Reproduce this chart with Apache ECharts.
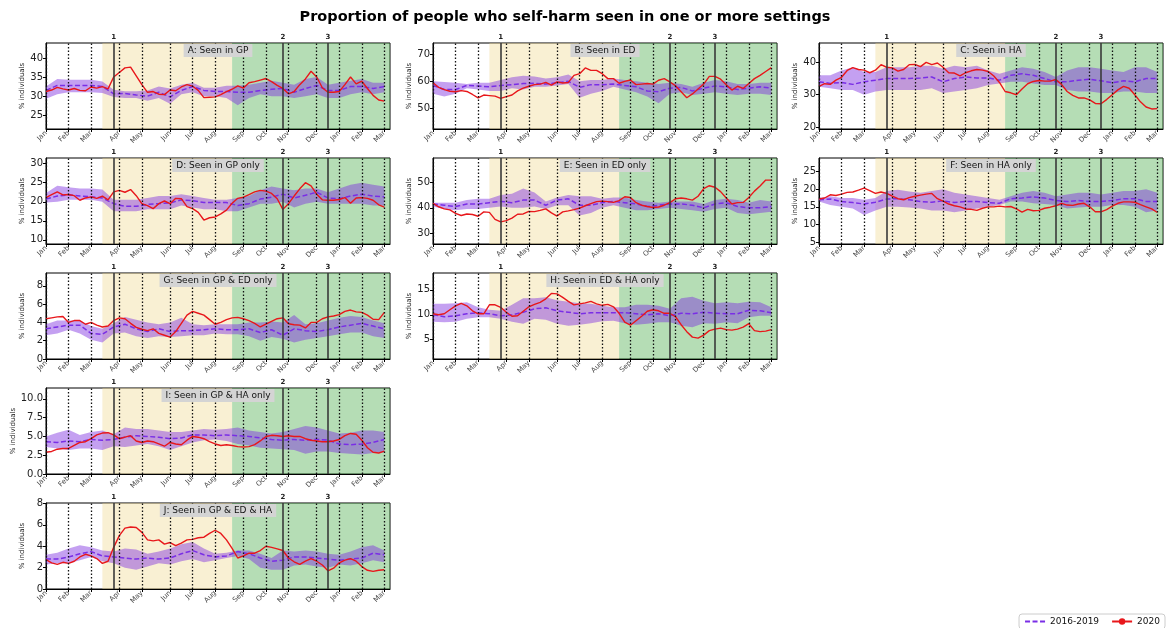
<!DOCTYPE html>
<html>
<head>
<meta charset="utf-8">
<title>Self-harm settings</title>
<script src="https://cdn.jsdelivr.net/npm/echarts@6/dist/echarts.min.js"></script>
<style>
    html, body { margin: 0; padding: 0; background: #fff; }
    #main { width: 1173px; height: 628px; }
</style>
</head>
<body>
<div id="main"></div>
<script>
// week index since first week of January 2020
var weeks = [0,1,2,3,4,5,6,7,8,9,10,11,12,13,14,15,16,17,18,19,20,21,22,23,24,25,26,27,28,29,30,
    31,32,33,34,35,36,37,38,39,40,41,42,43,44,45,46,47,48,49,50,51,52,53,54,55,56,57,58,59,60];
var weeks2 = [0,2,4,6,8,10,12,14,16,18,20,22,24,26,28,30,32,34,36,38,40,42,44,46,48,50,52,54,56,58,60];
var monthTicks = [0,4,8,13,17,22,26,30,35,39,43,48,52,56,60];
var monthLabels = ['Jan','Feb','Mar','Apr','May','Jun','Jul','Aug','Sep','Oct','Nov','Dec','Jan','Feb','Mar'];
var lockdownWeeks = [12,42,50];
var lockdownLabels = ['1','2','3'];
var summerSpan = [10,33];
var winterSpan = [33,61];

// A: Seen in GP
var aRed = [31.2,31.6,32.3,31.9,31.6,32.0,31.5,31.4,32.4,32.1,32.5,31.9,35.0,36.2,37.4,37.6,35.3,33.0,31.0,31.2,30.5,30.4,31.6,31.4,32.4,33.0,32.6,31.5,29.6,29.7,29.8,30.4,31.2,31.8,32.7,32.1,33.5,33.8,34.2,34.6,33.8,32.8,32.0,30.6,31.2,33.0,34.5,36.5,35.0,32.2,31.0,31.0,31.2,33.0,35.0,33.2,33.9,32.0,30.2,29.0,28.7];
var aMean = [31.5,32.8,32.8,32.8,32.8,32.5,30.6,30.7,30.3,30.0,31.0,29.8,31.5,32.5,31.5,31.2,31.2,31.0,31.0,31.5,31.8,32.0,31.0,32.0,32.8,31.5,31.5,32.5,32.5,32.0,32.5];
var aHi = [32.5,34.5,34.3,34.3,34.3,33.8,31.7,31.3,31.3,31.5,32.5,32.0,33.0,33.5,32.2,32.2,32.7,32.7,33.0,33.5,34.0,33.5,33.0,34.5,35.0,33.0,33.5,34.0,34.5,33.5,33.5];
var aLo = [29.3,30.5,31.0,31.0,31.0,30.8,29.8,29.5,29.5,28.8,29.5,28.0,30.5,31.0,30.0,30.0,29.5,27.6,29.5,30.5,30.0,30.0,29.5,30.0,30.5,29.5,29.5,30.5,31.0,30.5,31.0];
var aTicks = [25,30,35,40];

// B: Seen in ED
var bRed = [59.5,57.8,57.0,56.4,56.2,56.6,56.3,55.2,54.0,55.0,54.8,54.6,53.8,54.4,55.0,56.5,57.5,58.2,58.8,59.0,59.6,58.6,59.8,59.4,59.6,62.2,62.8,64.9,64.0,64.0,62.8,61.0,61.0,59.3,60.0,60.5,58.8,59.0,59.2,59.0,60.4,61.0,59.8,58.4,56.2,54.0,55.4,57.2,59.0,61.8,61.8,60.8,58.8,56.8,58.2,57.4,59.2,61.0,62.2,63.6,65.0];
var bMean = [58.5,57.0,57.0,58.5,58.3,58.0,58.5,58.8,59.2,59.3,59.0,59.5,60.0,57.8,58.8,58.8,59.0,58.5,58.0,56.5,56.2,57.5,57.8,56.5,57.5,58.3,58.0,57.0,57.5,58.0,57.5];
var bHi = [60.0,59.8,59.5,59.0,59.5,59.5,60.5,61.5,62.0,61.8,61.0,61.5,62.5,60.0,60.5,60.5,61.0,60.5,60.0,59.5,59.0,59.5,59.0,58.0,59.5,60.5,60.0,59.0,59.0,59.5,59.5];
var bLo = [55.5,54.5,55.5,57.5,57.0,56.5,56.5,57.5,57.0,58.0,58.0,58.5,59.0,54.0,55.5,56.5,58.0,57.0,56.0,54.5,52.0,55.5,56.0,55.0,55.5,56.0,55.5,55.0,55.5,55.5,55.0];
var bTicks = [50,60,70];

// C: Seen in HA
var cRed = [32.6,33.4,33.2,34.5,35.4,37.5,38.4,37.8,37.6,36.8,37.6,39.3,38.5,38.3,37.3,37.8,39.3,39.4,38.7,40.0,39.3,39.8,38.5,36.8,36.7,35.8,36.8,37.4,37.8,37.6,37.2,35.8,33.8,31.0,30.6,30.0,31.8,33.4,34.1,34.4,34.2,34.2,34.7,33.2,31.0,29.8,29.0,29.0,28.4,27.3,27.2,28.5,30.0,31.5,32.6,32.0,30.0,27.8,26.2,25.6,25.7];
var cMean = [34.0,33.5,33.8,33.2,34.0,34.5,35.0,35.0,35.0,35.2,35.5,34.0,35.0,35.5,35.2,35.2,34.5,36.0,36.5,36.0,35.0,34.0,34.0,34.5,34.8,34.3,33.7,34.3,34.0,35.0,35.0];
var cHi = [36.0,36.0,37.5,38.5,37.0,37.0,38.5,38.5,38.5,39.0,39.0,38.0,39.0,38.5,39.0,37.5,36.5,37.5,38.5,38.0,37.0,35.5,37.5,38.5,38.5,38.0,37.5,37.0,38.5,38.5,37.0];
var cLo = [32.5,32.0,31.5,31.5,30.0,31.0,31.5,31.5,31.5,31.5,32.0,30.5,31.0,31.5,32.0,33.0,33.5,34.0,34.0,33.5,33.0,33.0,31.5,31.0,31.0,30.5,30.5,31.0,31.0,30.5,30.5];
var cTicks = [20,30,40];

// D: Seen in GP only
var dRed = [21.1,21.9,22.6,21.8,21.9,21.6,20.4,21.0,21.3,20.9,21.5,20.5,22.6,23.0,22.5,23.2,21.6,19.5,19.0,18.2,19.5,20.2,19.5,20.9,20.8,18.7,18.2,17.2,15.2,15.8,16.0,16.8,17.8,19.6,20.9,21.2,21.9,22.6,23.0,22.8,22.2,20.8,18.0,19.5,21.5,23.4,25.0,24.2,22.0,20.5,20.4,20.4,20.6,21.1,19.6,21.0,21.1,20.9,20.4,19.2,18.6];
var dMean = [20.7,21.5,21.8,21.5,21.3,21.0,19.5,18.8,18.8,19.3,19.5,19.7,20.5,20.3,19.8,19.8,19.8,19.0,19.5,20.7,21.2,22.0,21.0,21.7,22.5,21.0,20.8,21.5,22.0,21.5,21.3];
var dHi = [22.3,24.2,23.8,23.5,23.5,23.2,20.5,20.5,20.5,21.0,21.5,21.5,22.0,21.5,21.0,20.5,20.5,21.0,21.5,23.0,24.0,23.5,23.0,23.5,23.5,22.5,23.5,24.5,25.0,24.5,24.0];
var dLo = [19.8,20.0,20.5,20.5,20.5,20.0,17.5,17.5,17.5,18.0,18.0,18.0,19.0,18.5,18.0,18.0,17.5,17.5,18.5,19.5,19.5,20.0,18.5,19.5,20.0,19.5,19.5,19.5,19.5,19.0,19.0];
var dTicks = [10,15,20,25,30];

// E: Seen in ED only
var eRed = [41.7,40.4,39.6,39.2,37.8,37.0,37.6,37.4,36.7,38.4,38.2,35.5,34.5,35.0,36.0,37.5,37.6,38.6,38.5,39.0,39.6,38.0,36.8,38.4,38.8,39.3,39.9,40.8,41.6,42.4,42.6,42.4,42.1,42.8,44.3,44.0,42.0,41.0,40.5,40.1,40.3,41.0,42.0,43.5,43.8,43.5,43.0,44.5,47.5,48.6,48.0,46.3,43.8,41.5,42.0,42.1,44.0,46.5,48.5,50.8,50.8];
var eMean = [41.5,41.0,40.5,41.5,41.5,42.0,42.5,42.0,43.0,43.0,41.0,43.0,43.5,41.0,41.0,42.0,42.5,42.0,41.5,40.5,41.0,41.5,41.5,41.0,40.0,41.5,42.0,40.5,40.0,40.0,40.5];
var eHi = [42.0,42.0,42.0,43.0,43.5,43.5,45.0,45.5,47.5,46.0,42.5,44.0,45.0,44.5,44.5,43.5,44.0,44.0,43.0,42.5,42.0,42.5,42.5,42.5,41.5,43.0,43.5,43.0,42.0,43.0,42.5];
var eLo = [40.5,39.5,39.0,39.5,39.5,40.0,40.5,40.0,40.0,40.5,39.5,41.0,41.0,37.0,38.0,40.0,41.0,40.0,39.0,39.0,39.5,40.0,39.5,39.0,38.5,39.5,40.0,38.0,37.5,38.0,38.5];
var eTicks = [30,40,50];

// F: Seen in HA only
var fRed = [17.2,17.5,18.4,18.2,18.6,19.1,19.2,19.7,20.3,19.6,18.8,19.2,18.8,18.0,17.3,17.0,17.6,18.0,18.3,18.6,18.8,17.3,16.6,15.8,15.3,15.0,14.4,14.3,14.0,14.6,15.0,15.0,15.2,15.0,15.1,14.4,13.5,14.3,13.9,14.0,14.6,14.9,15.3,16.0,15.5,15.4,15.8,16.0,15.0,13.6,13.6,14.2,15.2,16.0,16.4,16.4,16.3,15.6,15.0,14.4,13.4];
var fMean = [17.0,17.2,16.5,16.2,15.8,16.3,17.2,17.3,17.0,16.5,16.3,16.7,16.2,16.5,16.5,16.2,16.0,17.3,17.5,17.8,17.5,16.8,16.5,16.8,16.5,16.5,16.8,17.3,17.3,16.5,16.5];
var fHi = [17.5,18.0,17.5,17.5,17.0,17.5,19.5,19.8,19.3,19.0,19.5,20.0,19.0,18.5,18.0,17.5,17.0,18.0,19.0,19.5,19.0,18.0,18.5,19.0,19.0,18.5,19.0,19.5,19.5,20.0,19.0];
var fLo = [16.5,15.5,15.0,14.5,12.7,14.0,15.0,15.0,14.8,14.5,14.0,14.0,13.5,14.0,14.5,15.0,15.5,16.5,16.5,16.0,15.8,15.5,14.5,14.8,15.0,15.0,15.5,15.5,15.0,13.5,14.0];
var fTicks = [5,10,15,20,25];

// G: Seen in GP & ED only
var gRed = [4.4,4.5,4.6,4.65,4.0,4.2,4.2,3.8,4.0,3.7,3.5,3.6,4.2,4.5,4.4,3.9,3.45,3.25,3.1,3.3,2.8,2.6,2.4,3.0,3.9,4.8,5.2,5.0,4.8,4.3,3.8,4.0,4.3,4.5,4.55,4.4,4.2,3.9,3.5,3.8,4.1,4.4,4.5,3.85,3.75,3.7,3.4,4.0,4.0,4.4,4.6,4.7,4.85,5.2,5.35,5.15,5.1,4.8,4.35,4.3,5.1];
var gMean = [3.3,3.5,3.7,3.7,2.8,2.7,3.5,3.8,3.3,3.0,3.3,3.0,3.1,3.1,3.2,3.3,3.2,3.2,3.3,2.9,3.2,2.6,3.3,3.1,3.0,3.2,3.5,3.7,3.9,3.6,3.3];
var gHi = [3.8,4.2,4.2,4.2,3.6,3.3,3.9,4.6,4.3,4.0,3.8,4.0,4.5,3.8,3.7,3.8,3.8,3.8,4.0,4.0,4.1,4.0,4.8,3.8,3.9,4.2,4.5,4.7,4.6,4.2,3.9];
var gLo = [2.6,2.8,3.2,2.8,2.1,1.8,2.8,2.9,2.5,2.3,2.5,2.4,2.5,2.6,2.6,2.8,2.7,2.7,2.5,2.0,2.4,2.2,1.8,2.1,2.3,2.5,2.7,2.9,2.9,2.5,2.3];
var gTicks = [0,2,4,6,8];

// H: Seen in ED & HA only
var hRed = [10.2,10.0,10.2,11.0,11.8,12.3,11.8,10.8,10.2,10.2,12.0,12.0,11.5,10.5,9.7,9.8,10.7,11.6,12.1,12.5,13.2,14.3,14.2,13.5,12.7,12.0,12.2,12.4,12.7,12.2,11.9,12.1,11.6,10.3,8.5,7.9,8.8,9.7,10.7,11.0,10.8,10.3,10.3,9.6,8.0,6.6,5.5,5.3,5.9,6.8,7.1,7.3,7.0,6.9,7.1,7.5,8.2,6.8,6.6,6.7,7.0];
var hMean = [10.0,9.6,9.8,10.2,10.4,10.2,9.8,10.0,10.5,11.2,11.4,10.8,10.5,10.2,10.4,10.4,10.4,10.4,10.2,10.0,10.2,9.8,10.3,10.2,10.5,10.3,10.2,10.2,10.9,10.8,10.4];
var hHi = [12.2,12.2,12.3,12.5,11.5,11.0,10.8,12.0,13.3,13.3,13.5,12.9,12.6,12.3,12.2,11.8,11.5,11.5,12.0,12.0,11.8,11.2,13.3,13.6,12.8,12.3,12.5,12.3,12.6,12.5,11.5];
var hLo = [8.6,8.5,8.6,9.2,9.5,9.5,9.2,8.6,8.2,9.2,9.0,8.2,7.8,8.0,8.3,8.7,8.8,8.3,8.0,8.2,8.5,8.5,7.8,7.5,8.3,8.2,8.5,8.3,9.5,9.8,9.8];
var hTicks = [5,10,15];

// I: Seen in GP & HA only
var iRed = [2.9,3.0,3.3,3.4,3.4,3.8,4.2,4.3,4.7,5.2,5.45,5.5,5.2,4.7,4.9,5.1,4.4,4.2,4.4,4.3,4.0,3.7,4.2,4.0,3.9,4.5,5.0,4.9,4.7,4.3,4.0,3.8,3.9,3.8,3.65,3.6,3.65,3.9,4.4,5.0,5.15,5.1,5.0,5.1,5.0,5.0,4.7,4.5,4.4,4.3,4.3,4.4,4.6,5.1,5.4,5.3,4.5,3.5,2.9,2.8,3.05];
var iMean = [4.3,4.2,4.4,4.3,4.6,4.5,4.6,4.9,5.1,5.0,4.9,4.7,4.8,5.2,5.2,5.1,5.2,5.1,5.0,4.8,4.6,4.5,4.6,4.5,4.6,4.5,4.0,3.9,4.0,4.2,4.6];
var iHi = [5.0,5.5,5.9,5.2,5.6,5.8,5.3,6.2,6.0,6.0,5.8,5.6,5.6,5.8,6.0,5.9,6.0,6.2,5.8,5.6,5.4,5.6,6.0,6.4,6.2,5.8,5.4,5.5,5.8,5.8,5.6];
var iLo = [3.6,3.4,3.2,3.4,3.4,3.2,3.7,3.6,3.8,4.0,3.7,3.2,3.7,4.2,4.5,4.6,4.4,4.0,3.8,3.5,3.4,3.3,3.2,2.7,3.0,3.0,2.8,2.7,2.6,2.8,2.9];
var iTicks = [0,2.5,5,7.5,10];

// J: Seen in GP & ED & HA
var jRed = [2.75,2.45,2.3,2.5,2.4,2.6,3.0,3.25,3.1,2.85,2.4,2.6,3.9,5.0,5.7,5.8,5.75,5.3,4.6,4.5,4.6,4.2,4.35,4.05,4.3,4.6,4.65,4.8,4.85,5.2,5.5,5.2,4.6,3.8,2.9,3.1,3.35,3.35,3.6,4.0,3.9,3.75,3.6,2.9,2.55,2.3,2.6,2.85,2.6,2.25,1.7,1.95,2.45,2.7,2.85,2.6,2.1,1.75,1.65,1.75,1.8];
var jMean = [2.8,2.8,3.0,3.3,3.5,3.1,3.0,2.9,2.8,2.9,2.8,2.9,3.3,3.6,3.2,3.0,3.1,3.5,3.3,2.9,2.6,2.7,3.0,3.0,2.9,2.8,2.7,2.8,2.9,3.35,3.2];
var jHi = [3.2,3.4,3.8,4.1,3.9,3.6,3.5,3.8,3.7,3.3,3.5,3.8,4.2,4.4,3.8,3.3,3.4,3.6,3.6,3.3,2.9,3.6,3.5,3.6,3.5,3.3,3.2,3.5,3.9,4.1,3.6];
var jLo = [2.3,2.4,2.4,2.7,3.0,2.6,2.4,2.0,1.8,2.1,2.4,2.3,2.6,2.8,2.5,2.7,2.9,3.1,2.8,2.0,1.8,1.8,2.2,2.3,2.1,2.0,2.3,2.2,2.4,2.7,2.5];
var jTicks = [0,2,4,6,8];

var panels = [
    {title: 'A: Seen in GP', red: aRed, mean: aMean, hi: aHi, lo: aLo, ticks: aTicks, col: 0, row: 0, min: 21.4, max: 43.9, dec: 0},
    {title: 'B: Seen in ED', red: bRed, mean: bMean, hi: bHi, lo: bLo, ticks: bTicks, col: 1, row: 0, min: 42.6, max: 74.0, dec: 0},
    {title: 'C: Seen in HA', red: cRed, mean: cMean, hi: cHi, lo: cLo, ticks: cTicks, col: 2, row: 0, min: 19.4, max: 46.0, dec: 0},
    {title: 'D: Seen in GP only', red: dRed, mean: dMean, hi: dHi, lo: dLo, ticks: dTicks, col: 0, row: 1, min: 8.9, max: 31.5, dec: 0},
    {title: 'E: Seen in ED only', red: eRed, mean: eMean, hi: eHi, lo: eLo, ticks: eTicks, col: 1, row: 1, min: 25.9, max: 59.4, dec: 0},
    {title: 'F: Seen in HA only', red: fRed, mean: fMean, hi: fHi, lo: fLo, ticks: fTicks, col: 2, row: 1, min: 4.5, max: 28.8, dec: 0},
    {title: 'G: Seen in GP & ED only', red: gRed, mean: gMean, hi: gHi, lo: gLo, ticks: gTicks, col: 0, row: 2, min: 0, max: 9.4, dec: 0},
    {title: 'H: Seen in ED & HA only', red: hRed, mean: hMean, hi: hHi, lo: hLo, ticks: hTicks, col: 1, row: 2, min: 1.1, max: 18.4, dec: 0},
    {title: 'I: Seen in GP & HA only', red: iRed, mean: iMean, hi: iHi, lo: iLo, ticks: iTicks, col: 0, row: 3, min: 0, max: 11.45, dec: 1},
    {title: 'J: Seen in GP & ED & HA', red: jRed, mean: jMean, hi: jHi, lo: jLo, ticks: jTicks, col: 0, row: 4, min: 0, max: 8.05, dec: 0}
];

var colLeft = [46, 433, 819];
var rowTop = [43, 158, 273, 388, 503];
var plotW = 344;
var plotH = 86;

var yellow = 'rgba(240, 215, 140, 0.38)';
var green = 'rgba(60, 165, 60, 0.38)';
var bandColor = 'rgba(125, 45, 225, 0.45)';
var meanColor = '#7a2ee6';
var redColor = '#e8171b';

var chart = echarts.init(document.getElementById('main'));

var grids = [], xAxes = [], yAxes = [], series = [], graphics = [];

graphics.push({
    type: 'text', x: 565, y: 17, z: 100,
    style: {
        text: 'Proportion of people who self-harm seen in one or more settings',
        font: 'bold 14.5px "DejaVu Sans"', fill: '#000', align: 'center', verticalAlign: 'middle'
    }
});

function pairs(xs, ys) {
    return xs.map(function (x, k) {
        return [x, ys[k]];
    });
}

function bandSeries(idx, lo, hi) {
    return {
        type: 'custom',
        xAxisIndex: idx,
        yAxisIndex: idx,
        z: 2,
        silent: true,
        data: weeks2.map(function (w, k) {
            return [w, lo[k], hi[k]];
        }),
        renderItem: function (params, api) {
            if (params.dataIndex !== 0) {
                return;
            }
            var pts = [];
            for (var k = 0; k < weeks2.length; k++) {
                pts.push(api.coord([weeks2[k], hi[k]]));
            }
            for (var m = weeks2.length - 1; m >= 0; m--) {
                pts.push(api.coord([weeks2[m], lo[m]]));
            }
            return {type: 'polygon', shape: {points: pts}, style: {fill: bandColor}};
        }
    };
}

panels.forEach(function (p, idx) {
    var left = colLeft[p.col];
    var top = rowTop[p.row];

    grids.push({
        left: left, top: top, width: plotW, height: plotH,
        show: true, borderColor: '#000', borderWidth: 1, backgroundColor: 'transparent'
    });

    xAxes.push({
        gridIndex: idx, type: 'value', min: 0, max: 61,
        axisLine: {show: true, lineStyle: {color: '#000', width: 1}},
        axisTick: {show: true, customValues: monthTicks, length: 3, lineStyle: {color: '#000'}},
        axisLabel: {
            customValues: monthTicks, rotate: 45, fontSize: 7, color: '#444', margin: 3,
            formatter: function (v) {
                var k = monthTicks.indexOf(v);
                return k >= 0 ? monthLabels[k] : '';
            }
        },
        splitLine: {show: false}
    });

    yAxes.push({
        gridIndex: idx, type: 'value', min: p.min, max: p.max,
        name: '% individuals', nameLocation: 'middle', nameGap: 20,
        nameTextStyle: {fontSize: 7, color: '#222'},
        axisLine: {show: true, lineStyle: {color: '#000', width: 1}},
        axisTick: {show: true, customValues: p.ticks, length: 3, lineStyle: {color: '#000'}},
        axisLabel: {
            customValues: p.ticks, fontSize: 10, color: '#222', margin: 3,
            formatter: function (v) {
                return v.toFixed(p.dec);
            }
        },
        splitLine: {show: false}
    });

    var lines = monthTicks.map(function (w) {
        return {xAxis: w, lineStyle: {color: '#111', type: [1.5, 2], width: 1.3}, label: {show: false}};
    });
    lockdownWeeks.forEach(function (w, k) {
        lines.push({
            xAxis: w,
            lineStyle: {color: '#3a3a3a', type: 'solid', width: 1.6},
            label: {
                show: true, position: 'end', formatter: lockdownLabels[k],
                fontSize: 7, fontWeight: 'bold', color: '#222', distance: 2
            }
        });
    });

    series.push({
        type: 'line', xAxisIndex: idx, yAxisIndex: idx, z: 1, silent: true,
        data: [[0, p.min]], symbol: 'none', lineStyle: {opacity: 0},
        markArea: {
            silent: true,
            data: [
                [{xAxis: summerSpan[0], itemStyle: {color: yellow}}, {xAxis: summerSpan[1]}],
                [{xAxis: winterSpan[0], itemStyle: {color: green}}, {xAxis: winterSpan[1]}]
            ]
        },
        markLine: {silent: true, symbol: ['none', 'none'], animation: false, data: lines}
    });

    series.push(bandSeries(idx, p.lo, p.hi));

    series.push({
        name: '2016-2019', type: 'line', xAxisIndex: idx, yAxisIndex: idx, z: 3,
        data: pairs(weeks2, p.mean), symbol: 'none', silent: true,
        itemStyle: {color: meanColor},
        lineStyle: {color: meanColor, width: 1.5, type: [5, 2.5]}
    });

    series.push({
        name: '2020', type: 'line', xAxisIndex: idx, yAxisIndex: idx, z: 4,
        data: pairs(weeks, p.red), symbol: 'circle', symbolSize: 5, showSymbol: false, silent: true,
        itemStyle: {color: redColor},
        lineStyle: {color: redColor, width: 1.4}
    });

    graphics.push({
        type: 'text', x: left + plotW / 2, y: top + 1, z: 100,
        style: {
            text: p.title, font: '9px "DejaVu Sans"', fill: '#111',
            backgroundColor: '#d4d4d4', padding: [2, 4, 2, 4],
            align: 'center', verticalAlign: 'top'
        }
    });
});

var option = {
    animation: false,
    textStyle: {fontFamily: 'DejaVu Sans'},
    grid: grids,
    xAxis: xAxes,
    yAxis: yAxes,
    series: series,
    graphic: graphics,
    legend: {
        data: [
            {name: '2016-2019', itemStyle: {opacity: 0}},
            {name: '2020'}
        ],
        right: 8, top: 614, orient: 'horizontal',
        itemWidth: 20, itemHeight: 8, itemGap: 12,
        padding: [3, 5, 3, 5],
        borderColor: '#ccc', borderWidth: 1, borderRadius: 3,
        textStyle: {fontSize: 9, color: '#111'}
    }
};

chart.setOption(option);
</script>
</body>
</html>
